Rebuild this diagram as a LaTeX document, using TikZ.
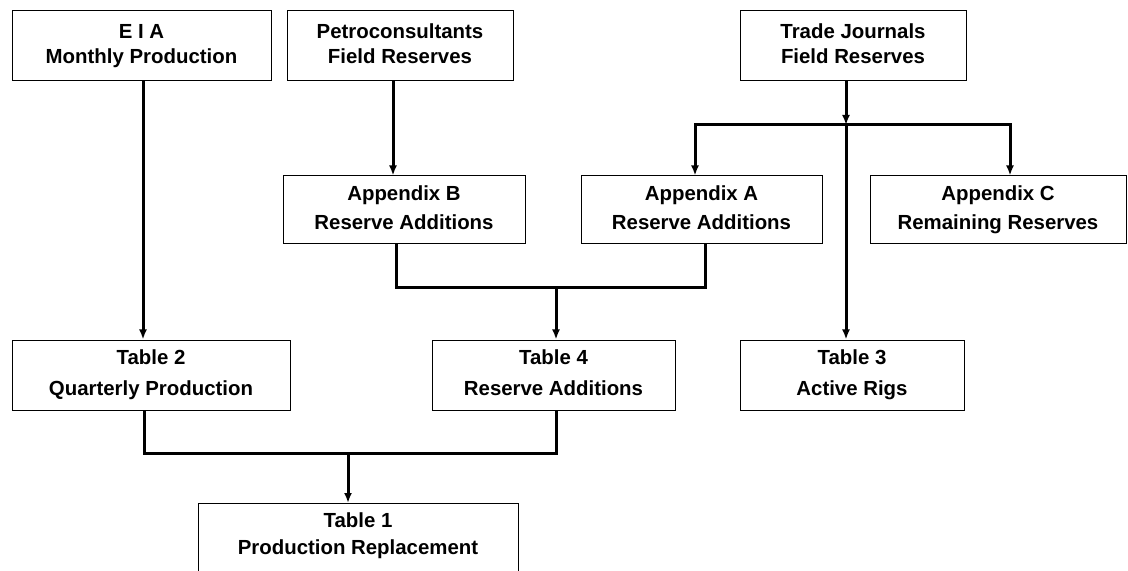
\documentclass[tikz,border=0pt]{standalone}
\usepackage{fontspec}
\setmainfont{Liberation Sans}
\usetikzlibrary{arrows.meta}
\tikzset{
    blk/.style   ={draw=black, line width=0.5pt, fill=white, inner sep=0pt,
                   text depth=2.3pt,
                   align=center, font=\fontsize{10.2pt}{12.5pt}\selectfont\bfseries},
    srcblk/.style={blk, minimum height=35pt},
    appblk/.style={blk, minimum height=34pt,
                   font=\fontsize{10.2pt}{14.5pt}\selectfont\bfseries},
    tabblk/.style={blk, minimum height=35pt,
                   font=\fontsize{10.2pt}{15.5pt}\selectfont\bfseries},
    ln/.style    ={line width=1.5pt, draw=black},
    ar/.style    ={ln, -{Latex[length=5pt, width=4pt]}}
}

\begin{document}
\begin{tikzpicture}[x=0.5pt, y=-0.5pt]
  \useasboundingbox (0,0) rectangle (1128,571);

  % sources
  \node[srcblk, minimum width=129.5pt] (eia)   at (141.5,46) {E I A\\Monthly Production};
  \node[srcblk, minimum width=113pt]   (petro) at (400,46)   {Petroconsultants\\Field Reserves};
  \node[srcblk, minimum width=113pt]   (trade) at (853,46)   {Trade Journals\\Field Reserves};

  % appendices
  \node[appblk, minimum width=121pt]   (appB) at (404,210)   {Appendix B\\Reserve Additions};
  \node[appblk, minimum width=120.5pt] (appA) at (701.5,210) {Appendix A\\Reserve Additions};
  \node[appblk, minimum width=128pt]   (appC) at (998,210)   {Appendix C\\Remaining Reserves};

  % tables
  \node[tabblk, minimum width=139pt]   (tab2) at (151,375)   {Table 2\\Quarterly Production};
  \node[tabblk, minimum width=121.5pt] (tab4) at (553.5,375) {Table 4\\Reserve Additions};
  \node[tabblk, minimum width=112pt]   (tab3) at (852,375)   {Table 3\\Active Rigs};
  \node[blk, anchor=north, minimum width=160pt, minimum height=40pt, text depth=10pt,
        font=\fontsize{10.2pt}{13.5pt}\selectfont\bfseries]
        (tab1) at (358,503) {Table 1\\Production Replacement};

  % junctions
  \coordinate (tsplit) at (846,125);
  \coordinate (bmerge) at (556,288);
  \coordinate (tmerge) at (348,453);

  % flows
  \draw[ar] ([xshift=0.75pt]eia.south) -- ([xshift=0.75pt]eia.south |- tab2.north);
  \draw[ar] ([xshift=-3.5pt]petro.south) -- ([xshift=-3.5pt]petro.south |- appB.north);
  \draw[ar] (trade.south -| tsplit) -- (tsplit);
  \draw[ar] (tsplit) -- (tsplit |- tab3.north);
  \draw[ar] (tsplit) -| ([xshift=-3.25pt]appA.north);
  \draw[ar] (tsplit) -| ([xshift=6pt]appC.north);
  \draw[ln] ([xshift=-4pt]appB.south) |- (bmerge) -| ([xshift=1.75pt]appA.south);
  \draw[ar] (bmerge) -- (bmerge |- tab4.north);
  \draw[ln] ([xshift=-3.5pt]tab2.south) |- (tmerge) -| ([xshift=1.25pt]tab4.south);
  \draw[ar] (tmerge) -- (tmerge |- tab1.north);
\end{tikzpicture}
\end{document}
